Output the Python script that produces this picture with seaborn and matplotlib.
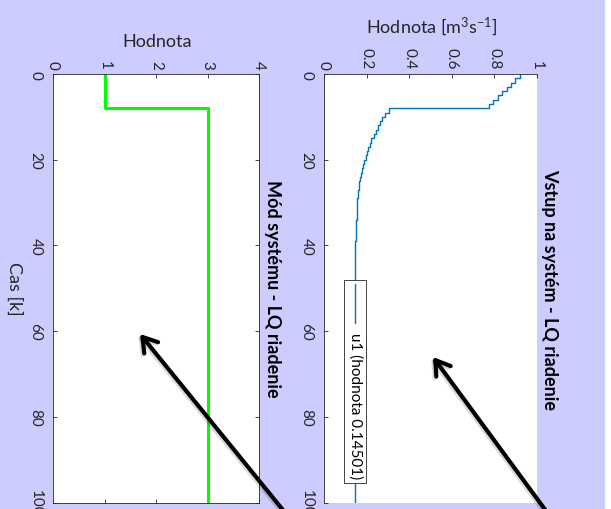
import matplotlib
matplotlib.use("Agg")
import matplotlib.pyplot as plt
import matplotlib.patheffects as pe
from matplotlib.patches import FancyArrowPatch, Rectangle, ArrowStyle
from matplotlib.lines import Line2D
import seaborn as sns

# sample index k = 0..100
k = list(range(101))

# control input u1 (LQ controller)
u1 = [
    0.918, 0.898, 0.877, 0.857, 0.836, 0.815, 0.794, 0.773,
    0.304, 0.285, 0.274, 0.264, 0.253, 0.242, 0.233, 0.222, 0.214, 0.207, 0.200, 0.195,
    0.190, 0.184, 0.178, 0.173, 0.169, 0.166, 0.163, 0.161, 0.159, 0.157,
    0.156, 0.155, 0.154, 0.153, 0.152, 0.151, 0.150, 0.149, 0.148, 0.147,
    0.147, 0.146, 0.146, 0.146, 0.14501, 0.14501, 0.14501, 0.14501, 0.14501, 0.14501,
    0.14501, 0.14501, 0.14501, 0.14501, 0.14501, 0.14501, 0.14501, 0.14501, 0.14501, 0.14501,
    0.14501, 0.14501, 0.14501, 0.14501, 0.14501, 0.14501, 0.14501, 0.14501, 0.14501, 0.14501,
    0.14501, 0.14501, 0.14501, 0.14501, 0.14501, 0.14501, 0.14501, 0.14501, 0.14501, 0.14501,
    0.14501, 0.14501, 0.14501, 0.14501, 0.14501, 0.14501, 0.14501, 0.14501, 0.14501, 0.14501,
    0.14501, 0.14501, 0.14501, 0.14501, 0.14501, 0.14501, 0.14501, 0.14501, 0.14501, 0.14501,
    0.14501,
]

# active system mode
mode = [
    1, 1, 1, 1, 1, 1, 1, 1,
    3, 3, 3, 3, 3, 3, 3, 3, 3, 3, 3, 3,
    3, 3, 3, 3, 3, 3, 3, 3, 3, 3, 3, 3, 3, 3, 3, 3, 3, 3, 3, 3,
    3, 3, 3, 3, 3, 3, 3, 3, 3, 3, 3, 3, 3, 3, 3, 3, 3, 3, 3, 3,
    3, 3, 3, 3, 3, 3, 3, 3, 3, 3, 3, 3, 3, 3, 3, 3, 3, 3, 3, 3,
    3, 3, 3, 3, 3, 3, 3, 3, 3, 3, 3, 3, 3, 3, 3, 3, 3, 3, 3, 3,
    3,
]

u_ticks = [0, 0.2, 0.4, 0.6, 0.8, 1]
u_ticklabels = ["0", "0.2", "0.4", "0.6", "0.8", "1"]
m_ticks = [0, 1, 2, 3, 4]
m_ticklabels = ["0", "1", "2", "3", "4"]
k_ticks = [0, 20, 40, 60, 80, 100]
k_ticklabels = ["0", "20", "40", "60", "80", "100"]

title_u = "Vstup na systém - LQ riadenie"
title_m = "Mód systému - LQ riadenie"
legend_text = "u1 (hodnota 0.14501)"

sns.set_theme(style="white")
plt.rcParams["font.family"] = ["Lato", "DejaVu Sans"]
plt.rcParams["mathtext.fontset"] = "custom"
plt.rcParams["mathtext.rm"] = "Lato"
plt.rcParams["mathtext.it"] = "Lato:italic"

W, H = 611, 510
BG = "#CCCCFF"
INK = "#262626"
PX = 0.72  # points per pixel at 100 dpi

fig = plt.figure(figsize=(W / 100, H / 100), dpi=100, facecolor=BG)
fig.patches.append(Rectangle((605 / W, 0), 6 / W, 1, transform=fig.transFigure,
                             facecolor="white", edgecolor="none", zorder=-1))

ax_u = fig.add_axes([324 / W, 6.5 / H, 213 / W, 428.5 / H])
ax_m = fig.add_axes([53 / W, 6.5 / H, 206 / W, 428.5 / H])

sns.lineplot(x=u1, y=k, ax=ax_u, orient="y", sort=False, estimator=None,
             drawstyle="steps-pre", color="#0072BD", linewidth=1.0)
sns.lineplot(x=mode, y=k, ax=ax_m, orient="y", sort=False, estimator=None,
             drawstyle="steps-pre", color="#00FF00", linewidth=2.2)


def style_axes(ax, xticks, xticklabels, xlim):
    ax.set_facecolor("white")
    ax.set_xlim(*xlim)
    ax.set_ylim(100, 0)
    ax.xaxis.tick_top()
    ax.xaxis.set_label_position("top")
    ax.set_xticks(xticks)
    ax.set_xticklabels(xticklabels)
    ax.set_yticks(k_ticks)
    ax.set_yticklabels(k_ticklabels)
    ax.tick_params(axis="both", direction="in", length=3, width=0.6,
                   colors=INK, labelsize=11, top=True, bottom=True,
                   left=True, right=True, labeltop=True, labelbottom=False)
    ax.tick_params(axis="x", pad=4)
    ax.tick_params(axis="y", pad=7.5)
    for lab in ax.get_xticklabels():
        lab.set_rotation(-90)
    for lab in ax.get_yticklabels():
        lab.set_rotation(-90)
        lab.set_va("center")
    for s in ax.spines.values():
        s.set_color(INK)
        s.set_linewidth(0.6)


style_axes(ax_u, u_ticks, u_ticklabels, (0, 1))
style_axes(ax_m, m_ticks, m_ticklabels, (0, 4))

ax_u.spines["right"].set_visible(False)
ax_u.spines["bottom"].set_visible(False)
ax_u.tick_params(right=False, bottom=False)

ax_u.set_xlabel(r"Hodnota [m$^{3}$s$^{-1}$]", fontsize=13, color=INK, va="center")
ax_u.xaxis.set_label_coords(0.507, 1 + (75 - 27) / 428.5)
ax_m.set_xlabel("Hodnota", fontsize=13, color=INK, va="center")
ax_m.xaxis.set_label_coords(0.505, 1 + (75 - 42) / 428.5)
ax_u.set_ylabel("")
ax_m.set_ylabel("Cas [k]", fontsize=13, color=INK, rotation=-90, ha="center", va="center")
ax_m.yaxis.set_label_coords((14 - 53) / 206, 0.5)

for ax, ttl, off in ((ax_u, title_u, 13), (ax_m, title_m, 14)):
    ax.annotate(ttl, xy=(1, 0.5), xycoords="axes fraction", xytext=(off * PX, 0),
                textcoords="offset points", rotation=-90, ha="center", va="center",
                fontsize=13, fontweight="bold", color="black", annotation_clip=False)

# legend box drawn upright along the rotated axis
ax_u.add_patch(Rectangle((0.096, 48.1), 0.103, 47.3, facecolor="white",
                         edgecolor=INK, linewidth=0.6, zorder=3))
ax_u.add_line(Line2D([0.147, 0.147], [49.0, 58.0], color="#0072BD",
                     linewidth=1.0, zorder=4))
ax_u.text(0.149, 77.3, legend_text, rotation=-90, ha="center", va="center",
          fontsize=11, color="black", zorder=4)

# pointer arrows
arrow_style = ArrowStyle("->", head_length=0.5, head_width=0.32)
for tail, head in (((549, -6), (433, 152)), ((287, -6), (140, 175))):
    arr = FancyArrowPatch((tail[0] / W, tail[1] / H), (head[0] / W, head[1] / H),
                          transform=fig.transFigure, arrowstyle=arrow_style,
                          mutation_scale=20, color="black", linewidth=3,
                          shrinkA=0, shrinkB=0, zorder=10)
    arr.set_path_effects([pe.SimpleLineShadow(offset=(-1.2, -1.2), shadow_color="black",
                                              alpha=0.15), pe.Normal()])
    fig.add_artist(arr)

fig.savefig("out.png", dpi=100, facecolor=BG)
